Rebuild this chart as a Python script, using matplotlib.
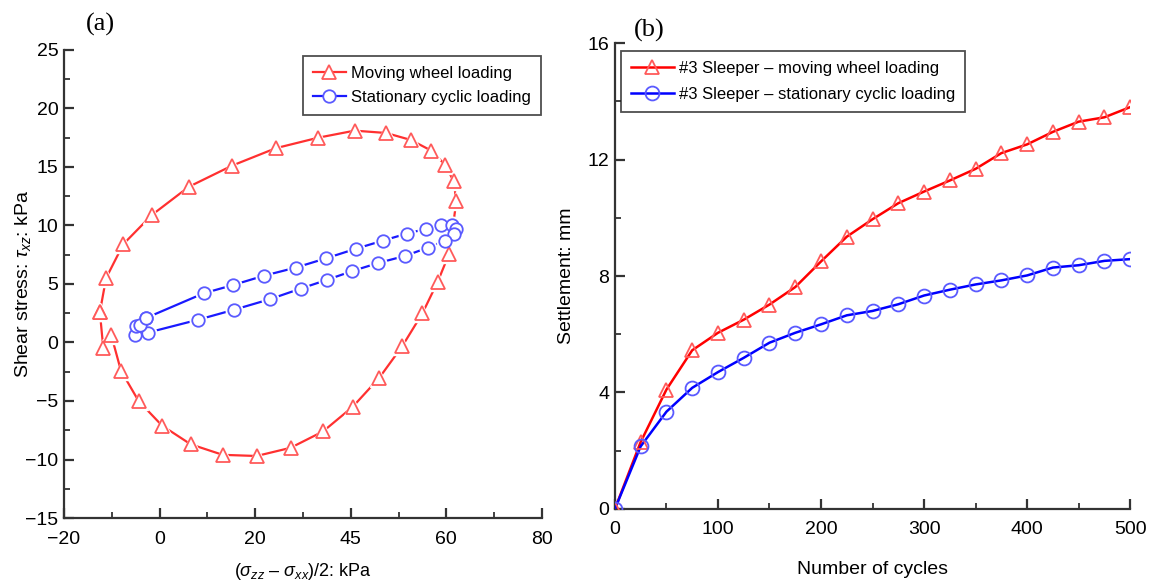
import numpy as np
import matplotlib
matplotlib.use('Agg')
from matplotlib import pyplot as plt
from matplotlib.ticker import MultipleLocator

plt.rcParams['font.family'] = ['Liberation Sans', 'DejaVu Sans']
plt.rcParams['mathtext.fontset'] = 'custom'
plt.rcParams['mathtext.rm'] = 'Liberation Sans'
plt.rcParams['mathtext.it'] = 'Liberation Sans:italic'

# (a) stress path, moving wheel loading (closed loop)
wheel_x = [-12.5, -11.2, -7.6, -1.6, 6.1, 15.1, 24.3, 33.2, 40.8, 47.4, 52.6, 56.8, 59.7, 61.5, 62.1,
           60.6, 58.2, 55.0, 50.8, 46.0, 40.4, 34.2, 27.4, 20.3, 13.2, 6.5, 0.5, -4.4, -8.1, -10.1, -11.8, -12.5]
wheel_y = [2.6, 5.5, 8.4, 10.9, 13.3, 15.1, 16.6, 17.5, 18.1, 17.9, 17.3, 16.4, 15.2, 13.8, 12.1,
           7.6, 5.2, 2.5, -0.3, -3.0, -5.5, -7.6, -9.0, -9.7, -9.6, -8.7, -7.1, -5.0, -2.4, 0.6, -0.45, 2.6]

# (a) stress path, stationary cyclic loading (closed loop)
stat_x = [-2.8, 9.2, 15.3, 21.8, 28.5, 34.9, 41.0, 46.7, 51.7, 55.7, 58.9, 61.1, 62.1, 61.5,
          59.7, 56.1, 51.4, 45.8, 40.3, 35.0, 29.5, 23.1, 15.6, 8.1, -2.4, -5.2, -4.9, -4.2, -2.8]
stat_y = [2.1, 4.2, 4.9, 5.7, 6.4, 7.2, 8.0, 8.7, 9.3, 9.7, 10.0, 10.0, 9.7, 9.3,
          8.7, 8.1, 7.4, 6.8, 6.1, 5.35, 4.6, 3.7, 2.8, 1.95, 0.85, 0.6, 1.4, 1.5, 2.1]

# (b) settlement vs number of cycles
cycles = [0, 25, 50, 75, 100, 125, 150, 175, 200, 225, 250, 275, 300, 325, 350, 375, 400, 425, 450, 475, 500]
settle_wheel = [0, 2.3, 4.1, 5.45, 6.05, 6.5, 7.02, 7.62, 8.5, 9.35, 9.95, 10.5, 10.9, 11.28, 11.68,
                12.22, 12.52, 12.95, 13.3, 13.45, 13.8]
settle_stat = [0, 2.15, 3.34, 4.16, 4.7, 5.19, 5.71, 6.05, 6.34, 6.65, 6.8, 7.03, 7.33, 7.53, 7.71,
               7.85, 8.02, 8.29, 8.37, 8.52, 8.58]

xticks_a = [-20, 0, 20, 40, 60, 80]
xticklabels_a = ['\u221220', '0', '20', '45', '60', '80']
yticks_a = [-15, -10, -5, 0, 5, 10, 15, 20, 25]
yticklabels_a = ['\u221215', '\u221210', '\u22125', '0', '5', '10', '15', '20', '25']

RED_LINE = '#ff3030'
RED_MK = '#ff5a5a'
BLUE_LINE = '#1a1aff'
BLUE_MK = '#5a5aff'


def gapped(ax, x, y, lc, mc, marker, ms, label, lw=1.6):
    # line, white halo round the symbols, then the hollow symbols
    ax.plot(x, y, '-', color=lc, lw=lw, zorder=2)
    ax.plot(x, y, linestyle='none', marker=marker, ms=ms + 3, mfc='white', mec='white', zorder=3)
    ax.plot(x, y, linestyle='none', marker=marker, ms=ms, mfc='white', mec=mc, mew=1.3, zorder=4)
    # proxy for legend
    ax.plot([], [], '-', color=lc, lw=lw, marker=marker, ms=ms, mfc='white', mec=mc, mew=1.3, label=label)


def style_axes(ax):
    for s in ['top', 'right']:
        ax.spines[s].set_visible(False)
    for s in ['left', 'bottom']:
        ax.spines[s].set_linewidth(1.6)
        ax.spines[s].set_color('#333333')
    ax.tick_params(which='major', direction='in', length=7, width=1.6, labelsize=14, colors='#333333',
                   labelcolor='black')
    ax.tick_params(axis='x', pad=9)
    ax.tick_params(axis='y', pad=4)
    ax.tick_params(which='minor', direction='in', length=4, width=1.3, colors='#333333')


fig = plt.figure(figsize=(11.58, 5.87), dpi=100)

# panel (a)
ax1 = fig.add_axes([0.0553, 0.1175, 0.4127, 0.7975])
gapped(ax1, wheel_x, wheel_y, RED_LINE, RED_MK, '^', 10, 'Moving wheel loading')
gapped(ax1, stat_x, stat_y, BLUE_LINE, BLUE_MK, 'o', 9, 'Stationary cyclic loading')
ax1.set_xlim(-20, 80)
ax1.set_ylim(-15, 25)
ax1.set_xticks(xticks_a)
ax1.set_xticklabels(xticklabels_a)
ax1.set_yticks(yticks_a)
ax1.set_yticklabels(yticklabels_a)
ax1.xaxis.set_minor_locator(MultipleLocator(10))
ax1.yaxis.set_minor_locator(MultipleLocator(2.5))
style_axes(ax1)
ax1.set_xlabel('($\\sigma_{zz}$ \u2013 $\\sigma_{xx}$)/2: kPa', fontsize=13)
ax1.set_ylabel(r'Shear stress: $\tau_{xz}$: kPa', fontsize=14)
ax1.xaxis.set_label_coords(0.5, -0.092)
ax1.yaxis.set_label_coords(-0.065, 0.5)
leg1 = ax1.legend(loc='upper right', bbox_to_anchor=(1.005, 0.995), fontsize=12, frameon=True, fancybox=False,
                  edgecolor='#222222', handlelength=2.0, handletextpad=0.3, borderpad=0.6, labelspacing=0.55,
                  borderaxespad=0.2)
leg1.get_frame().set_linewidth(1.3)
fig.text(0.087, 0.958, '(a)', fontsize=19, family='Liberation Serif', ha='center', va='center')

# panel (b)
ax2 = fig.add_axes([0.531, 0.1329, 0.445, 0.7938])
ax2.plot(cycles, settle_wheel, '-', color='#ff0000', lw=1.8, zorder=3)
ax2.plot(cycles, settle_wheel, linestyle='none', marker='^', ms=10, mfc='none', mec=RED_MK, mew=1.3, zorder=4)
ax2.plot(cycles, settle_stat, '-', color='#0000ff', lw=1.8, zorder=3)
ax2.plot(cycles, settle_stat, linestyle='none', marker='o', ms=10, mfc='none', mec=BLUE_MK, mew=1.3, zorder=4)
ax2.plot([], [], '-', color='#ff0000', lw=1.8, marker='^', ms=10, mfc='none', mec=RED_MK, mew=1.3,
         label='#3 Sleeper \u2013 moving wheel loading')
ax2.plot([], [], '-', color='#0000ff', lw=1.8, marker='o', ms=10, mfc='none', mec=BLUE_MK, mew=1.3,
         label='#3 Sleeper \u2013 stationary cyclic loading')
ax2.set_xlim(0, 500)
ax2.set_ylim(0, 16)
ax2.set_xticks([0, 100, 200, 300, 400, 500])
ax2.set_yticks([0, 4, 8, 12, 16])
ax2.xaxis.set_minor_locator(MultipleLocator(50))
ax2.yaxis.set_minor_locator(MultipleLocator(2))
style_axes(ax2)
ax2.set_xlabel('Number of cycles', fontsize=14)
ax2.set_ylabel('Settlement: mm', fontsize=14)
ax2.xaxis.set_label_coords(0.5, -0.112)
ax2.yaxis.set_label_coords(-0.078, 0.5)
leg2 = ax2.legend(loc='upper left', bbox_to_anchor=(0.005, 0.99), fontsize=12, frameon=True, fancybox=False,
                  edgecolor='#222222', handlelength=2.6, handletextpad=0.3, borderpad=0.6, labelspacing=0.65,
                  borderaxespad=0.2)
leg2.get_frame().set_linewidth(1.3)
fig.text(0.561, 0.948, '(b)', fontsize=19, family='Liberation Serif', ha='center', va='center')

fig.savefig('out.png', dpi=100)
